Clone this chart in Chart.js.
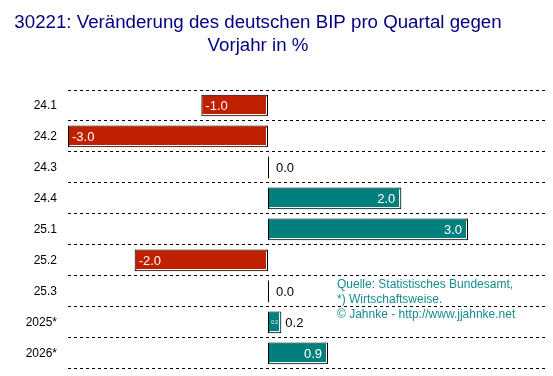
<!DOCTYPE html>
<html>
<head>
<meta charset="utf-8">
<script src="https://cdn.jsdelivr.net/npm/chart.js@4"></script>
<style>
  html, body { margin: 0; padding: 0; background: #fff; }
  #wrap { width: 553px; height: 376px; }
</style>
</head>
<body>
<div id="wrap"><canvas id="myChart" width="553" height="376"></canvas></div>
<script>
const labels = ['24.1', '24.2', '24.3', '24.4', '25.1', '25.2', '25.3', '2025*', '2026*'];
const values = [-1.0, -3.0, 0.0, 2.0, 3.0, -2.0, 0.0, 0.2, 0.9];
const titleLines = ['30221: Veränderung des deutschen BIP pro Quartal gegen', 'Vorjahr in %'];
const sourceLines = [
  'Quelle: Statistisches Bundesamt,',
  '*) Wirtschaftsweise.',
  '\u00a9 Jahnke - http://www.jjahnke.net'
];

const RED = '#bf2100';
const TEAL = '#007f7f';
const FONT = '"Liberation Sans", Arial, sans-serif';

// title, value labels, zero lines and source note
const labelPlugin = {
  id: 'barLabels',
  afterDatasetsDraw(chart) {
    const ctx = chart.ctx;
    const meta = chart.getDatasetMeta(0);
    const xs = chart.scales.x;
    const zero = xs.getPixelForValue(0);
    ctx.save();

    ctx.fillStyle = '#000080';
    ctx.font = '18.7px ' + FONT;
    ctx.textAlign = 'center';
    ctx.textBaseline = 'middle';
    titleLines.forEach(function(line, i) {
      ctx.fillText(line, 258, 23 + i * 23);
    });

    meta.data.forEach(function(bar, i) {
      const v = values[i];
      const txt = v.toFixed(1);
      const top = bar.y - bar.height / 2;
      const bottom = bar.y + bar.height / 2;
      const left = Math.min(bar.x, bar.base);
      const right = Math.max(bar.x, bar.base);
      ctx.textBaseline = 'middle';
      if (v === 0) {
        ctx.strokeStyle = '#000';
        ctx.lineWidth = 1;
        ctx.beginPath();
        ctx.moveTo(Math.round(zero) + 0.5, top);
        ctx.lineTo(Math.round(zero) + 0.5, bottom);
        ctx.stroke();
        ctx.fillStyle = '#000';
        ctx.font = '13px ' + FONT;
        ctx.textAlign = 'left';
        ctx.fillText(txt, zero + 8, bar.y + 1);
        return;
      }
      // light inner edge on right / bottom
      ctx.strokeStyle = '#fff';
      ctx.lineWidth = 1;
      ctx.beginPath();
      ctx.moveTo(Math.round(left) + 1.5, Math.round(bottom) - 1.5);
      ctx.lineTo(Math.round(right) - 1.5, Math.round(bottom) - 1.5);
      ctx.lineTo(Math.round(right) - 1.5, Math.round(top) + 1.5);
      ctx.stroke();
      if (right - left < 30) {
        ctx.fillStyle = '#fff';
        ctx.font = '5px ' + FONT;
        ctx.textAlign = 'center';
        ctx.fillText(txt, (left + right) / 2, bar.y);
        ctx.fillStyle = '#000';
        ctx.font = '13px ' + FONT;
        ctx.textAlign = 'left';
        ctx.fillText(txt, right + 4, bar.y + 1);
      } else if (v < 0) {
        ctx.fillStyle = '#fff';
        ctx.font = '13px ' + FONT;
        ctx.textAlign = 'left';
        ctx.fillText(txt, left + 4, bar.y + 1);
      } else {
        ctx.fillStyle = '#fff';
        ctx.font = '13px ' + FONT;
        ctx.textAlign = 'right';
        ctx.fillText(txt, right - 6, bar.y + 1);
      }
    });

    ctx.fillStyle = '#158c8c';
    ctx.font = '12px ' + FONT;
    ctx.textAlign = 'left';
    ctx.textBaseline = 'middle';
    sourceLines.forEach(function(line, i) {
      ctx.fillText(line, 337, 285 + i * 15);
    });
    ctx.restore();
  }
};

const data = {
  labels: labels,
  datasets: [{
    data: values,
    backgroundColor: values.map(v => v < 0 ? RED : TEAL),
    borderColor: '#000',
    borderWidth: values.map(v => v === 0 ? 0 : 1),
    borderSkipped: false,
    barPercentage: 0.7,
    categoryPercentage: 1.0
  }]
};

const config = {
  type: 'bar',
  data: data,
  options: {
    indexAxis: 'y',
    responsive: false,
    animation: false,
    layout: { padding: { left: 0, right: 5, top: 90, bottom: 0 } },
    plugins: {
      legend: { display: false },
      tooltip: { enabled: false },
      title: { display: false }
    },
    scales: {
      x: {
        display: false,
        min: -3,
        max: 4.2
      },
      y: {
        afterFit: function(scale) { scale.width = 68; },
        grid: {
          color: '#000',
          lineWidth: 1,
          drawTicks: true,
          tickLength: 11,
          tickColor: 'rgba(0,0,0,0)',
          offset: true
        },
        border: { display: false, dash: [3, 3] },
        ticks: {
          color: '#000',
          padding: 0,
          font: { family: FONT, size: 12 }
        }
      }
    }
  },
  plugins: [labelPlugin]
};

var myChart = new Chart(document.getElementById('myChart'), config);
</script>
</body>
</html>
